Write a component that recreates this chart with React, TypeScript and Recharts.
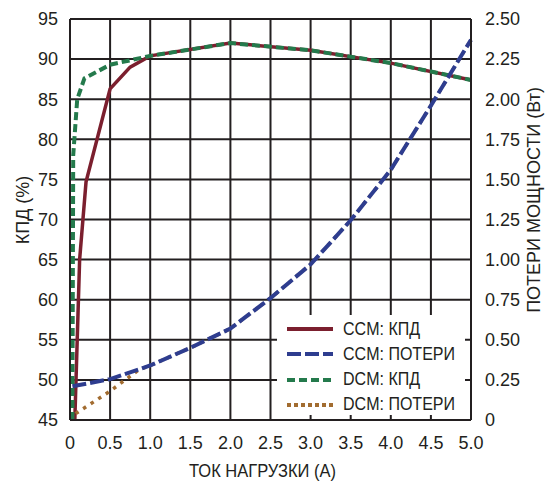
import { LineChart, Line, XAxis, YAxis, CartesianGrid, Label } from 'recharts';

// Load current axis (A)
const currentTicks = [0, 0.5, 1, 1.5, 2, 2.5, 3, 3.5, 4, 4.5, 5];
// Efficiency axis (%), left
const effTicks = [45, 50, 55, 60, 65, 70, 75, 80, 85, 90, 95];
// Power loss axis (W), right
const lossTicks = [0, 0.25, 0.5, 0.75, 1, 1.25, 1.5, 1.75, 2, 2.25, 2.5];

const ccmEffCurrent = [0.06, 0.12, 0.2, 0.5, 0.75, 1.0, 2.0, 3.0, 4.0, 5.0];
const ccmEffValue = [45, 65, 74.7, 86.3, 89.0, 90.4, 92.0, 91.1, 89.5, 87.4];

const dcmEffCurrent = [0.03, 0.04, 0.09, 0.18, 0.5, 1.0, 2.0, 3.0, 4.0, 5.0];
const dcmEffValue = [45, 78, 85, 87.6, 89.3, 90.4, 92.0, 91.1, 89.5, 87.4];

const ccmLossCurrent = [0.03, 0.5, 1.0, 1.5, 2.0, 2.5, 3.0, 3.5, 4.0, 4.5, 5.0];
const ccmLossValue = [0.21, 0.255, 0.34, 0.45, 0.57, 0.76, 0.97, 1.245, 1.56, 1.96, 2.37];

const dcmLossCurrent = [0.07, 0.5, 0.85, 1.0, 1.5, 2.0, 2.5, 3.0, 3.5, 4.0, 4.5, 5.0];
const dcmLossValue = [0.04, 0.18, 0.31, 0.34, 0.45, 0.57, 0.76, 0.97, 1.245, 1.56, 1.96, 2.37];

const toPoints = (xs: number[], ys: number[]) => xs.map((x, i) => ({ current: x, value: ys[i] }));

const ccmEff = toPoints(ccmEffCurrent, ccmEffValue);
const dcmEff = toPoints(dcmEffCurrent, dcmEffValue);
const ccmLoss = toPoints(ccmLossCurrent, ccmLossValue);
const dcmLoss = toPoints(dcmLossCurrent, dcmLossValue);

const INK = '#231f20';
const FONT = '"Liberation Sans", Arial, sans-serif';
const RED = '#7b1f2e';
const BLUE = '#2e3d8f';
const GREEN = '#247a4c';
const BROWN = '#a26c30';

const tickStyle = { fontSize: 18, fill: INK, fontFamily: FONT };

const legendItems = [
  { name: 'CCM: КПД', color: RED, dash: undefined },
  { name: 'CCM: ПОТЕРИ', color: BLUE, dash: '14 4' },
  { name: 'DCM: КПД', color: GREEN, dash: '8 4' },
  { name: 'DCM: ПОТЕРИ', color: BROWN, dash: '4 3' },
];

function ChartLegend() {
  return (
    <div
      style={{
        position: 'absolute',
        left: 277,
        top: 315,
        width: 188,
        height: 100,
        background: '#fff',
        fontFamily: FONT,
        fontSize: 18,
        color: INK,
      }}
    >
      {legendItems.map((item, i) => (
        <div
          key={item.name}
          style={{ position: 'absolute', left: 10, top: 2 + i * 25.3, height: 24, display: 'flex', alignItems: 'center' }}
        >
          <svg width={46} height={8}>
            <line x1={0} y1={4} x2={46} y2={4} stroke={item.color} strokeWidth={4} strokeDasharray={item.dash} />
          </svg>
          {/* the original type is a condensed sans, so squeeze it a bit */}
          <span
            style={{
              marginLeft: 10,
              whiteSpace: 'nowrap',
              display: 'inline-block',
              transform: 'scaleX(0.89)',
              transformOrigin: 'left center',
            }}
          >
            {item.name}
          </span>
        </div>
      ))}
    </div>
  );
}

export default function App() {
  return (
    <div style={{ position: 'absolute', left: 0, top: 0, width: 547, height: 484, background: '#fff' }}>
      <LineChart width={547} height={484} margin={{ top: 19, right: 0, bottom: 0, left: 0 }}>
        <CartesianGrid yAxisId="eff" stroke={INK} strokeWidth={2} />
        <XAxis
          dataKey="current"
          type="number"
          domain={[0, 5]}
          ticks={currentTicks}
          height={64}
          tickLine={false}
          tickMargin={10}
          axisLine={{ stroke: INK, strokeWidth: 2 }}
          tick={tickStyle}
          tickFormatter={(v: number) => (v === 0 ? '0' : v.toFixed(1))}
          interval={0}
        >
          <Label
            content={() => (
              <text
                x={262.5}
                y={477}
                textAnchor="middle"
                fontSize={18}
                fill={INK}
                fontFamily={FONT}
                textLength={147}
                lengthAdjust="spacingAndGlyphs"
              >
                ТОК НАГРУЗКИ (А)
              </text>
            )}
          />
        </XAxis>
        <YAxis
          yAxisId="eff"
          width={70}
          domain={[45, 95]}
          ticks={effTicks}
          tickLine={false}
          tickMargin={6}
          axisLine={{ stroke: INK, strokeWidth: 2 }}
          tick={tickStyle}
          interval={0}
        >
          <Label
            content={() => (
              <text transform="translate(29,210) rotate(-90)" textAnchor="middle" fontSize={18} fill={INK} fontFamily={FONT}>
                КПД (%)
              </text>
            )}
          />
        </YAxis>
        <YAxis
          yAxisId="loss"
          orientation="right"
          width={76}
          domain={[0, 2.5]}
          ticks={lossTicks}
          tickLine={false}
          tickMargin={8}
          axisLine={{ stroke: INK, strokeWidth: 2 }}
          tick={tickStyle}
          tickFormatter={(v: number) => (v === 0 ? '0' : v.toFixed(2))}
          interval={0}
        >
          <Label
            content={() => (
              <text transform="translate(540,200) rotate(-90)" textAnchor="middle" fontSize={18} fill={INK} fontFamily={FONT}>
                ПОТЕРИ МОЩНОСТИ (Вт)
              </text>
            )}
          />
        </YAxis>
        <Line
          yAxisId="eff"
          data={ccmEff}
          dataKey="value"
          name="CCM: КПД"
          type="linear"
          stroke={RED}
          strokeWidth={3.5}
          dot={false}
          isAnimationActive={false}
        />
        <Line
          yAxisId="eff"
          data={dcmEff}
          dataKey="value"
          name="DCM: КПД"
          type="linear"
          stroke={GREEN}
          strokeWidth={4}
          strokeDasharray="8 4"
          dot={false}
          isAnimationActive={false}
        />
        <Line
          yAxisId="loss"
          data={dcmLoss}
          dataKey="value"
          name="DCM: ПОТЕРИ"
          type="linear"
          stroke={BROWN}
          strokeWidth={3.5}
          strokeDasharray="3.5 5.5"
          dot={false}
          isAnimationActive={false}
        />
        <Line
          yAxisId="loss"
          data={ccmLoss}
          dataKey="value"
          name="CCM: ПОТЕРИ"
          type="linear"
          stroke={BLUE}
          strokeWidth={4}
          strokeDasharray="14 4"
          dot={false}
          isAnimationActive={false}
        />
      </LineChart>
      <ChartLegend />
    </div>
  );
}
